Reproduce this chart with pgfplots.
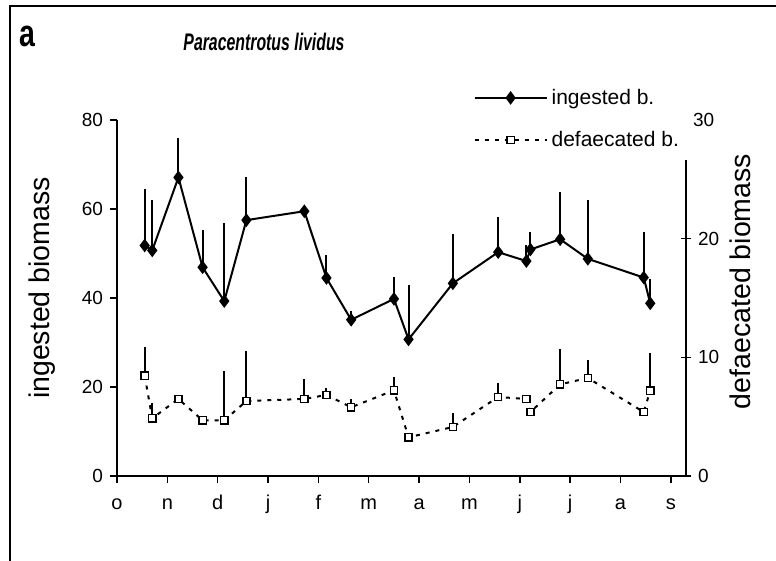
\documentclass[border=0pt]{standalone}
\usepackage{fontspec}
\setmainfont{Liberation Sans}
\usepackage{graphicx}
\usepackage{pgfplots}
\pgfplotsset{compat=1.18}

% shared frame: 1px of the reference = 0.5pt
\pgfplotsset{
  panel/.style={
    scale only axis, width=284.5pt, height=178pt,
    at={(58.5pt,42.5pt)}, anchor=south west,
    xmin=0, xmax=11.3, clip=false,
    axis line style={line width=0.8pt},
    tick style={black, line width=0.7pt},
    yticklabel style={font=\fontsize{9.5}{11}\selectfont},
    xticklabel style={font=\fontsize{10}{12}\selectfont, text height=7.5pt,
      text depth=2pt, yshift=-2pt},
    /pgf/number format/assume math mode=true,
  },
}

\begin{document}
\begin{tikzpicture}
\useasboundingbox (0,0) rectangle (388pt,280.5pt);
\draw[line width=1pt] (5pt,-5pt) -- (5pt,277.5pt) -- (395pt,277.5pt);

% ingested biomass, left axis
\begin{axis}[panel,
  axis x line*=bottom, axis y line*=left,
  ymin=0, ymax=80, ytick={0,20,40,60,80},
  xtick={0,1,2,3,4,5,6,7,8,9,10,11},
  xticklabels={o,n,d,j,f,m,a,m,j,j,a,s},
  tick align=outside, major tick length=3.5pt,
]
\addplot[black, line width=1pt, mark=diamond*, mark size=2.6pt,
  error bars/.cd, y dir=plus, y explicit, error mark=none,
  error bar style={line width=1pt}]
  coordinates {
  (0.55,51.8) +- (0,12.7)
  (0.70,50.7) +- (0,11.3)
  (1.22,67.1) +- (0,8.8)
  (1.70,46.9) +- (0,8.4)
  (2.13,39.3) +- (0,17.5)
  (2.57,57.5) +- (0,9.8)
  (3.72,59.5) +- (0,0)
  (4.16,44.5) +- (0,5.2)
  (4.65,35.1) +- (0,2.0)
  (5.50,39.8) +- (0,5.0)
  (5.79,30.7) +- (0,12.2)
  (6.67,43.3) +- (0,11.1)
  (7.57,50.3) +- (0,8.0)
  (8.13,48.3) +- (0,3.6)
  (8.21,50.9) +- (0,3.9)
  (8.80,53.2) +- (0,10.7)
  (9.35,48.8) +- (0,13.2)
  (10.46,44.6) +- (0,10.3)
  (10.59,38.8) +- (0,5.4)
  };
\end{axis}

% defaecated biomass, right axis
\begin{axis}[panel,
  axis x line=none, axis y line*=right,
  y axis line style={draw=none},
  ymin=0, ymax=30, ytick={0,10,20},
  extra y ticks={30}, extra y tick style={major tick length=0pt},
  tick align=center, major tick length=5pt,
  legend style={at={(0.626,1.10)}, anchor=north west, draw=none, fill=none,
    font=\fontsize{10.5}{12}\selectfont, row sep=8pt, inner sep=0pt,
    cells={anchor=west}},
  legend image code/.code={
    \draw[mark repeat=2, mark phase=2, #1]
      plot coordinates {(0pt,0pt) (18pt,0pt) (36pt,0pt)};},
]
\draw[line width=0.8pt] (axis cs:11.3,0) -- (axis cs:11.3,26.6);
\addlegendimage{black, line width=1pt, mark=diamond*, mark size=2.6pt}
\addlegendentry{ingested b.}
\addplot[black, line width=1pt, dash pattern=on 2pt off 3pt,
  mark=square*, mark size=1.8pt,
  mark options={solid, fill=white, line width=0.7pt},
  error bars/.cd, y dir=plus, y explicit, error mark=none,
  error bar style={solid, line width=1pt}]
  coordinates {
  (0.55,8.45) +- (0,2.4)
  (0.70,4.86) +- (0,1.26)
  (1.22,6.49) +- (0,0.2)
  (1.70,4.69) +- (0,0)
  (2.13,4.69) +- (0,4.2)
  (2.57,6.32) +- (0,4.2)
  (3.72,6.49) +- (0,1.7)
  (4.16,6.83) +- (0,0.6)
  (4.65,5.79) +- (0,0.7)
  (5.50,7.22) +- (0,1.1)
  (5.79,3.26) +- (0,0)
  (6.67,4.13) +- (0,1.15)
  (7.57,6.66) +- (0,1.15)
  (8.13,6.49) +- (0,0)
  (8.21,5.39) +- (0,0)
  (8.80,7.72) +- (0,2.96)
  (9.35,8.26) +- (0,1.5)
  (10.46,5.39) +- (0,0)
  (10.59,7.19) +- (0,3.15)
  };
\addlegendentry{defaecated b.}
\end{axis}

\node[rotate=90, font=\fontsize{14.25}{16}\selectfont] at (21pt,136.5pt) {ingested biomass};
\node[rotate=90, font=\fontsize{14.25}{16}\selectfont] at (370pt,139.75pt) {defaecated biomass};
\node at (132pt,259.5pt) {\scalebox{0.66}[1]{\bfseries\itshape\fontsize{12}{14}\selectfont Paracentrotus lividus}};
\node at (13.5pt,262.5pt) {\scalebox{0.75}[1]{\bfseries\fontsize{19}{21}\selectfont a}};
\end{tikzpicture}
\end{document}
